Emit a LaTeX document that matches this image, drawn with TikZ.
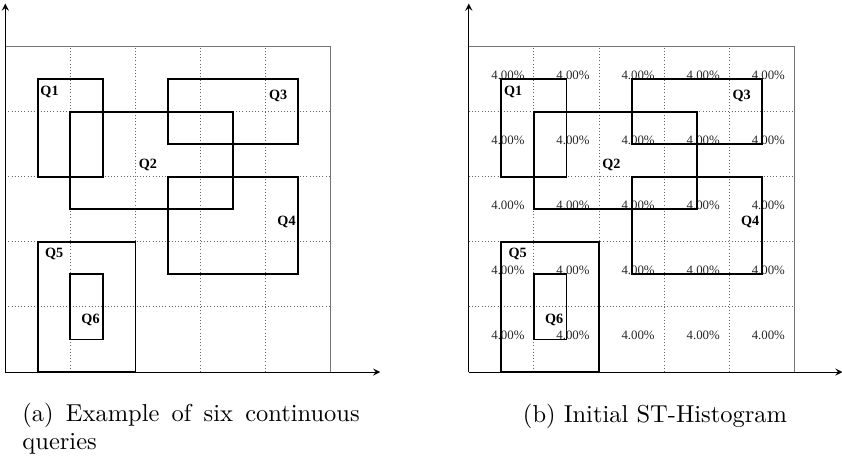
\documentclass[tikz,border=0pt]{standalone}
\usepackage{fontspec}
\newfontfamily\timesfont{Liberation Serif}

\begin{document}
\begin{tikzpicture}[>=stealth,
  query/.style={draw,line width=0.8pt},
  qlab/.style={font=\timesfont\bfseries\fontsize{6.2}{7}\selectfont,inner sep=0pt},
  pct/.style={font=\timesfont\fontsize{5.6}{6}\selectfont,inner sep=0pt,text=black!85},
  captext/.style={font=\fontsize{10.7}{12.3}\selectfont,inner sep=0pt}]
  \useasboundingbox (-0.081,-1.382) rectangle (12.852,5.714);
  \foreach \p/\ox/\tip in {a/0/5.76,b/7.12/5.74} {
    \begin{scope}[xshift=\ox cm]
      % cell grid
      \foreach \k in {1,...,4} {
        \draw[black!60,dash pattern=on 0.4pt off 1pt] (\k,0) -- (\k,5);
        \draw[black!60,dash pattern=on 0.4pt off 1pt] (0,\k) -- (5,\k);
      }
      % frame and axes
      \draw[black!55,line width=0.6pt] (0,5) -- (5,5) -- (5,0);
      \coordinate (\p-o) at (0,0);
      \coordinate (\p-y) at (0,5.66);
      \coordinate (\p-x) at (\tip,0);
      \draw[->] (\p-o) -- (\p-y);
      \draw[->] (\p-o) -- (\p-x);
    \end{scope}
  }
  % initial histogram values
  \begin{scope}[xshift=7.12cm]
    \foreach \i in {0,...,4}
      \foreach \j in {0,...,4}
        \node[pct] (p\i\j) at (\i+0.6,\j+0.56) {4.00\%};
  \end{scope}
  % queries
  \foreach \p/\ox in {a/0,b/7.12} {
    \begin{scope}[xshift=\ox cm]
      \draw[query] (0.5,3)   rectangle (1.5,4.5);
      \draw[query] (1,2.5)   rectangle (3.5,4);
      \draw[query] (2.5,3.5) rectangle (4.5,4.5);
      \draw[query] (2.5,1.5) rectangle (4.5,3);
      \draw[query] (0.5,0)   rectangle (2,2);
      \draw[query] (1,0.5)   rectangle (1.5,1.5);
      \node[qlab] (\p-q1) at (0.68,4.30) {Q1};
      \node[qlab] (\p-q2) at (2.19,3.18) {Q2};
      \node[qlab] (\p-q3) at (4.19,4.24) {Q3};
      \node[qlab] (\p-q4) at (4.32,2.31) {Q4};
      \node[qlab] (\p-q5) at (0.75,1.82) {Q5};
      \node[qlab] (\p-q6) at (1.31,0.80) {Q6};
    \end{scope}
  }
  % captions
  \node[captext,anchor=base west,text width=5.18cm,align=justify] (capa) at (0.257,-0.763)
    {(a) Example of six continuous queries};
  \node[captext,anchor=base] (capb) at (9.98,-0.769) {(b) Initial ST-Histogram};
\end{tikzpicture}
\end{document}
